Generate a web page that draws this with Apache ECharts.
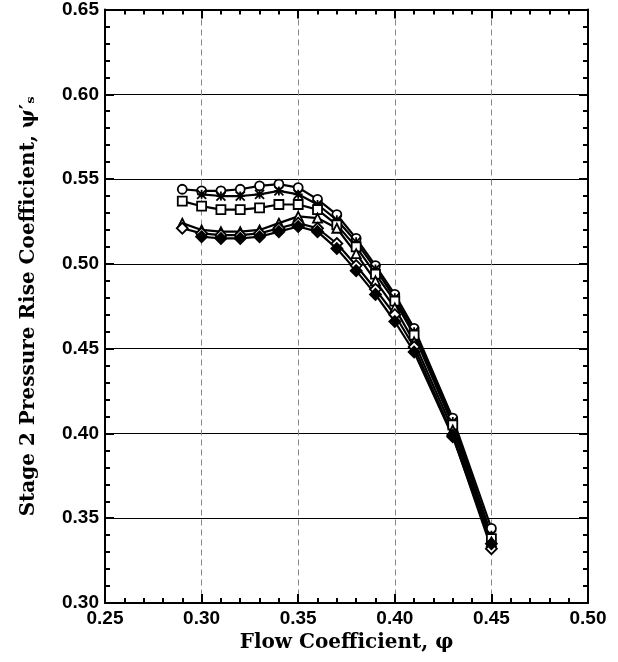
<!DOCTYPE html>
<html>
<head>
<meta charset="utf-8">
<script src="https://cdn.jsdelivr.net/npm/echarts@6/dist/echarts.min.js"></script>
<style>html,body{margin:0;padding:0;background:#fff}#c{width:618px;height:662px}</style>
</head>
<body>
<div id="c"></div>
<script>
const phi = [0.29, 0.30, 0.31, 0.32, 0.33, 0.34, 0.35, 0.36, 0.37, 0.38, 0.39, 0.40, 0.41, 0.43, 0.45];
const circleVals   = [0.544, 0.543, 0.543, 0.544, 0.546, 0.547, 0.545, 0.538, 0.529, 0.515, 0.499, 0.482, 0.462, 0.409, 0.344];
const starVals     = [null,  0.541, 0.540, 0.540, 0.541, 0.543, 0.541, 0.535, 0.526, 0.513, 0.497, 0.480, 0.460, 0.407, 0.340];
const squareVals   = [0.537, 0.534, 0.532, 0.532, 0.533, 0.535, 0.535, 0.532, 0.523, 0.510, 0.494, 0.478, 0.458, 0.405, 0.338];
const triangleVals = [0.524, 0.520, 0.519, 0.519, 0.520, 0.524, 0.528, 0.527, 0.521, 0.506, 0.490, 0.474, 0.454, 0.402, 0.336];
const diamondVals  = [0.521, 0.518, 0.517, 0.517, 0.518, 0.521, 0.524, 0.521, 0.512, 0.499, 0.485, 0.470, 0.451, 0.399, 0.332];
const filledVals   = [null,  0.516, 0.515, 0.515, 0.516, 0.519, 0.522, 0.519, 0.509, 0.496, 0.482, 0.466, 0.448, 0.398, 0.335];
const xTicks = [0.25, 0.30, 0.35, 0.40, 0.45, 0.50];
const yTicks = [0.30, 0.35, 0.40, 0.45, 0.50, 0.55, 0.60, 0.65];

const starPath = 'path://M0,0 L10,10 M10,0 L0,10 M5,0 L5,10 M0,5 L10,5';

function mk(name, vals, symbol, filled) {
  return {
    name, type: 'line', xAxisIndex: 0, yAxisIndex: 0,
    data: phi.map((p, i) => [p, vals[i]]).filter(d => d[1] !== null),
    symbol, symbolSize: symbol === 'diamond' ? 11 : 9,
    showSymbol: true,
    lineStyle: { color: '#000', width: 2.2 },
    itemStyle: { color: filled ? '#000' : '#fff', borderColor: '#000', borderWidth: 1.8 },
    z: 5
  };
}

const chart = echarts.init(document.getElementById('c'), null, { renderer: 'canvas' });
const tickFont = { fontFamily: 'Liberation Sans', fontWeight: 'bold', fontSize: 19, color: '#000' };
const titleFont = { fontFamily: 'DejaVu Serif', fontWeight: 'bold', fontSize: 20, color: '#000' };

chart.setOption({
  animation: false,
  backgroundColor: '#fff',
  grid: { left: 105, right: 30, top: 8, bottom: 59 },
  xAxis: [{
    type: 'value', min: 0.25, max: 0.50, interval: 0.05,
    axisLine: { show: true, lineStyle: { color: '#000', width: 2 } },
    axisTick: { show: true, inside: true, length: 9, lineStyle: { color: '#000', width: 2 } },
    minorTick: { show: true, splitNumber: 5, length: 5, lineStyle: { color: '#000', width: 2 } },
    axisLabel: Object.assign({ margin: 6, formatter: v => xTicks.find(t => Math.abs(t - v) < 1e-6)?.toFixed(2) ?? '' }, tickFont),
    splitLine: { show: true, lineStyle: { color: '#888', width: 1, type: [6, 4] } },
    name: 'Flow Coefficient, \u03C6', nameLocation: 'middle', nameGap: 28,
    nameTextStyle: titleFont
  }, {
    type: 'value', position: 'top', min: 0.25, max: 0.50, interval: 0.05,
    axisLine: { show: true, lineStyle: { color: '#000', width: 2 } },
    axisTick: { show: true, inside: true, length: 9, lineStyle: { color: '#000', width: 2 } },
    minorTick: { show: true, splitNumber: 5, length: 5, lineStyle: { color: '#000', width: 2 } },
    axisLabel: { show: false }, splitLine: { show: false }
  }],
  yAxis: [{
    type: 'value', min: 0.30, max: 0.65, interval: 0.05,
    axisLine: { show: true, lineStyle: { color: '#000', width: 2 } },
    axisTick: { show: true, inside: true, length: 9, lineStyle: { color: '#000', width: 2 } },
    minorTick: { show: true, splitNumber: 5, length: 5, lineStyle: { color: '#000', width: 2 } },
    axisLabel: Object.assign({ margin: 6, formatter: v => yTicks.find(t => Math.abs(t - v) < 1e-6)?.toFixed(2) ?? '' }, tickFont),
    splitLine: { show: true, lineStyle: { color: '#000', width: 1.2 } },
    name: 'Stage 2 Pressure Rise Coefficient, \u03C8\u2032\u209B', nameLocation: 'middle', nameGap: 66,
    nameTextStyle: titleFont
  }, {
    type: 'value', position: 'right', min: 0.30, max: 0.65, interval: 0.05,
    axisLine: { show: true, lineStyle: { color: '#000', width: 2 } },
    axisTick: { show: true, inside: true, length: 9, lineStyle: { color: '#000', width: 2 } },
    minorTick: { show: true, splitNumber: 5, length: 5, lineStyle: { color: '#000', width: 2 } },
    axisLabel: { show: false }, splitLine: { show: false }
  }],
  series: [
    mk('circle', circleVals, 'circle', false),
    mk('star', starVals, starPath, true),
    mk('square', squareVals, 'rect', false),
    mk('triangle', triangleVals, 'triangle', false),
    mk('diamond', diamondVals, 'diamond', false),
    mk('filled', filledVals, 'diamond', true)
  ]
});
</script>
</body>
</html>
